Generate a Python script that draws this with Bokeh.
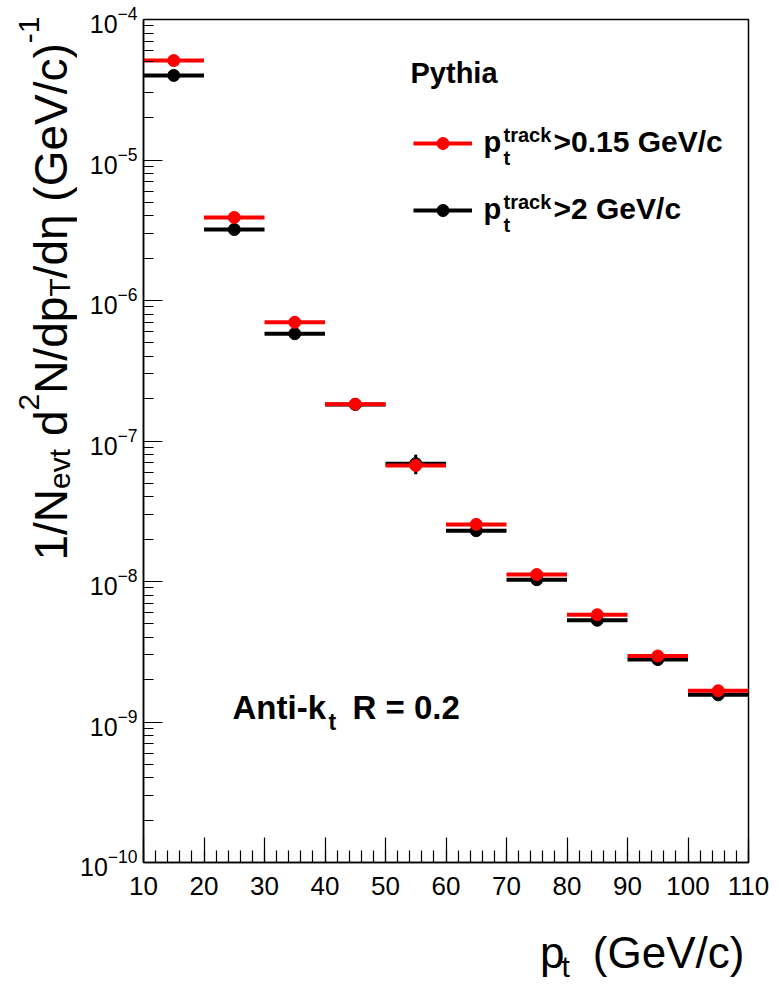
import math
from bokeh.plotting import figure
from bokeh.layouts import row, column
from bokeh.models import (Range1d, FixedTicker, LogTickFormatter, Label,
                          Legend, LegendItem, ColumnDataSource)
from bokeh.embed import file_html
from bokeh.resources import INLINE

# ---------------- data ----------------
pt_low = [10, 20, 30, 40, 50, 60, 70, 80, 90, 100]
pt_high = [20, 30, 40, 50, 60, 70, 80, 90, 100, 110]
pt_center = [15, 25, 35, 45, 55, 65, 75, 85, 95, 105]

red_vals = [5.1e-5, 3.9e-6, 7.0e-7, 1.83e-7, 6.7e-8, 2.55e-8, 1.12e-8, 5.8e-9, 2.95e-9, 1.67e-9]
red_err = [1.0e-6, 8.0e-8, 1.5e-8, 4.0e-9, 2.0e-9, 6.0e-10, 2.5e-10, 1.2e-10, 6.0e-11, 3.5e-11]
black_vals = [4.0e-5, 3.2e-6, 5.8e-7, 1.82e-7, 6.9e-8, 2.3e-8, 1.03e-8, 5.3e-9, 2.78e-9, 1.56e-9]
black_err = [1.5e-6, 1.2e-7, 2.5e-8, 6.0e-9, 1.1e-8, 9.0e-10, 4.0e-10, 2.0e-10, 1.0e-10, 6.0e-11]

x_ticks = [10, 20, 30, 40, 50, 60, 70, 80, 90, 100, 110]
x_minor = list(range(10, 111, 2))
y_ticks = [1e-10, 1e-9, 1e-8, 1e-7, 1e-6, 1e-5, 1e-4]
y_minor = [k * t for t in y_ticks[:-1] for k in range(2, 10)]

# ---------------- layout geometry (canvas pixels) ----------------
TOT_W, TOT_H = 779, 985
LEFT_W = 77            # strip holding the y-axis title
FL, FR, FT, FB = 143, 748, 19, 862   # plot frame edges
MAIN_H = 907           # main figure height; below it the x-title strip
FONT = "Liberation Sans"
MID = 0.36             # baseline offset of a vertically centred text, in em

main_w = TOT_W - LEFT_W
p = figure(width=main_w, height=MAIN_H,
           x_range=Range1d(10, 110), y_range=Range1d(1e-10, 1e-4),
           y_axis_type="log", output_backend="svg", toolbar_location=None,
           min_border_left=FL - LEFT_W, min_border_right=TOT_W - FR,
           min_border_top=FT, min_border_bottom=MAIN_H - FB)
p.background_fill_color = "white"
p.border_fill_color = "white"
p.xgrid.visible = False
p.ygrid.visible = False
p.outline_line_color = "black"
p.outline_line_width = 1.5

xa = p.xaxis[0]
xa.ticker = FixedTicker(ticks=x_ticks, minor_ticks=x_minor)
xa.major_tick_in = 25
xa.major_tick_out = 0
xa.minor_tick_in = 12
xa.minor_tick_out = 0
xa.axis_line_width = 1.5
xa.major_tick_line_width = 1.2
xa.minor_tick_line_width = 1.2
xa.major_label_text_font = FONT
xa.major_label_text_font_size = "26px"
xa.major_label_text_color = "black"
xa.major_label_standoff = 14

ya = p.yaxis[0]
ya.ticker = FixedTicker(ticks=y_ticks, minor_ticks=y_minor)
ya.formatter = LogTickFormatter()
ya.major_tick_in = 19
ya.major_tick_out = 0
ya.minor_tick_in = 10
ya.minor_tick_out = 0
ya.axis_line_width = 1.5
ya.major_tick_line_width = 1.2
ya.minor_tick_line_width = 1.2
ya.major_label_text_font = FONT
ya.major_label_text_font_size = "25px"
ya.major_label_text_color = "black"
ya.major_label_standoff = 6

# ---------------- data marks ----------------
def series(vals, errs, color):
    src = ColumnDataSource(dict(
        lo=pt_low, hi=pt_high, c=pt_center, v=vals,
        vlo=[v - e for v, e in zip(vals, errs)],
        vhi=[v + e for v, e in zip(vals, errs)]))
    seg = p.segment(x0="lo", x1="hi", y0="v", y1="v", source=src,
                    line_color=color, line_width=4)
    p.segment(x0="c", x1="c", y0="vlo", y1="vhi", source=src,
              line_color=color, line_width=3)
    pt = p.scatter(x="c", y="v", source=src, size=12, marker="circle",
                   fill_color=color, line_color=color)
    return seg, pt

b_seg, b_pt = series(black_vals, black_err, "black")
r_seg, r_pt = series(red_vals, red_err, "#ff0000")

legend = Legend(items=[LegendItem(label=" ", renderers=[r_seg, r_pt]),
                       LegendItem(label=" ", renderers=[b_seg, b_pt])],
                location=(413 - FL, FB - 225), glyph_width=59, glyph_height=30,
                spacing=37, padding=0, margin=0, label_standoff=0,
                label_text_font_size="6px", border_line_alpha=0,
                background_fill_alpha=0)
p.add_layout(legend)

# ---------------- texts inside the frame ----------------
def frame_text(text, X, Y, size, bold=False):
    # (X, Y): left end of the baseline, canvas pixels
    p.add_layout(Label(x=X - FL, y=FB - (Y - MID * size),
                       x_units="screen", y_units="screen",
                       text=text, text_font=FONT, text_font_size=f"{size}px",
                       text_font_style="bold" if bold else "normal",
                       text_align="left", text_baseline="middle",
                       text_color="black"))

frame_text("Pythia", 410, 83, 29, bold=True)
for dy, rest in [(0, ">0.15 GeV/c"), (67, ">2 GeV/c")]:
    frame_text("p", 483, 152 + dy, 29, bold=True)
    frame_text("track", 503, 142 + dy, 20, bold=True)
    frame_text("t", 503, 165 + dy, 20, bold=True)
    frame_text(rest, 553, 152 + dy, 30, bold=True)

frame_text("Anti-k", 232, 719, 33, bold=True)
frame_text("t", 328, 730, 23, bold=True)
frame_text("R = 0.2", 352, 719, 33, bold=True)

# ---------------- strips for axis titles ----------------
def text_strip(w, h, x0, y0):
    f = figure(width=w, height=h, x_range=Range1d(x0, x0 + w),
               y_range=Range1d(y0 + h, y0), output_backend="svg",
               toolbar_location=None, x_axis_location=None,
               y_axis_location=None, min_border=0)
    f.outline_line_color = None
    f.xgrid.visible = False
    f.ygrid.visible = False
    f.background_fill_color = "white"
    f.border_fill_color = "white"
    return f

def strip_text(f, text, X, Y, size, vertical=False):
    # (X, Y): start of the baseline, canvas pixels
    if vertical:
        x, y, ang = X - MID * size, Y, math.pi / 2
    else:
        x, y, ang = X, Y - MID * size, 0.0
    f.add_layout(Label(x=x, y=y, text=text, text_font=FONT,
                       text_font_size=f"{size}px", angle=ang,
                       text_align="left", text_baseline="middle",
                       text_color="black"))

# Arial / Liberation Sans advance widths (per 1000 em)
W = {'1': 556, '/': 278, 'N': 722, 'e': 556, 'v': 500, 't': 278, ' ': 278,
     'd': 556, '2': 556, 'p': 556, 'T': 611, 'η': 556, '(': 333, 'G': 778,
     'V': 667, 'c': 500, ')': 333, '-': 333}

def twidth(s, size):
    return sum(W[ch] for ch in s) / 1000.0 * size

left = text_strip(LEFT_W, TOT_H, 0, 0)
main_sz, small_sz = 46, 30
base_X = 67
pieces = [("1/N", "m"), ("evt", "sub"), (" d", "m"), ("2", "sup"),
          ("N/dp", "m"), ("T", "sub"), ("/dη", "m"), (" (GeV/c)", "m"),
          ("-1", "sup")]
pos = 560.0
for txt, kind in pieces:
    if kind == "m":
        sz, X = main_sz, base_X
    elif kind == "sub":
        sz, X = small_sz, base_X + 3
    else:
        sz, X = small_sz, base_X - 28
    lead = len(txt) - len(txt.lstrip(" "))
    pos -= twidth(" " * lead, sz)          # leading blanks as an offset
    body = txt.lstrip(" ")
    strip_text(left, body, X, pos, sz, vertical=True)
    pos -= twidth(body, sz)

bottom = text_strip(main_w, TOT_H - MAIN_H, LEFT_W, MAIN_H)
strip_text(bottom, "p", 537, 968, 44)
strip_text(bottom, "t", 562, 977, 30)
strip_text(bottom, "(GeV/c)", 750 - twidth("(GeV/c)", 44), 968, 44)

layout = row(left, column(p, bottom, spacing=0), spacing=0)
open("out.html", "w").write(file_html(layout, INLINE))
